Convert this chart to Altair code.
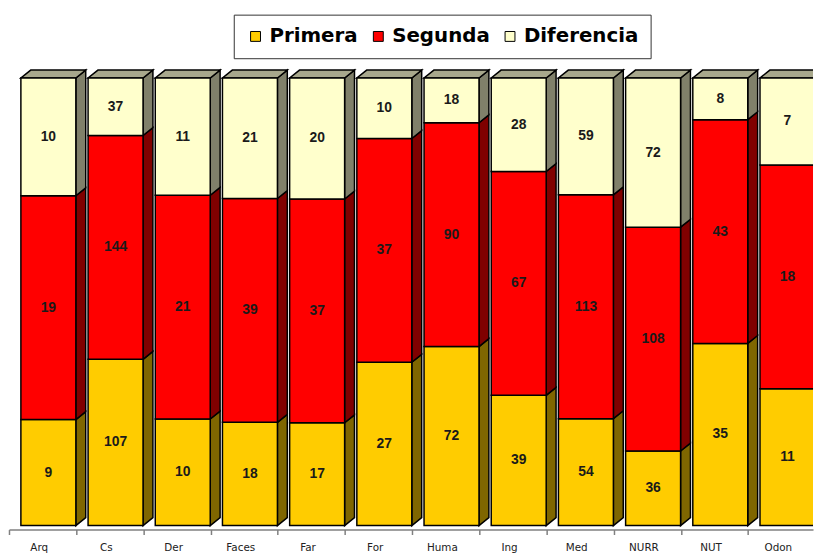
import json
import altair as alt
import pandas as pd

categories = ["Arq", "Cs", "Der", "Faces", "Far", "For", "Huma", "Ing", "Med", "NURR", "NUT", "Odon"]
primera = [9, 107, 10, 18, 17, 27, 72, 39, 54, 36, 35, 11]
segunda = [19, 144, 21, 39, 37, 37, 90, 67, 113, 108, 43, 18]
diferencia = [10, 37, 11, 21, 20, 10, 18, 28, 59, 72, 8, 7]
series = ["Primera", "Segunda", "Diferencia"]

front_colors = ["#FFCC00", "#FF0000", "#FFFFCC"]
side_colors = ["#7F6600", "#800000", "#80806A"]
top_color = "#A8A88C"

# geometry / style constants (band units and percent units)
FACE_L, FACE_R = 0.177, 0.995
DX, DY = 0.147, 1.77
X_MAX = 11.966

seg_rows, side_rows, top_rows = [], [], []
for i, c in enumerate(categories):
    vals = [primera[i], segunda[i], diferencia[i]]
    tot = sum(vals)
    cum = 0
    for k, (s, v) in enumerate(zip(series, vals)):
        y0 = cum / tot * 100
        cum += v
        y1 = cum / tot * 100
        seg_rows.append(dict(cat=c, idx=i, serie=s, value=v, y0=y0, y1=y1))
        gid = f"{c}-{s}"
        side_rows.append(dict(gid=gid, x=i + FACE_R, lo=y0, hi=y1, fill=side_colors[k]))
        side_rows.append(dict(gid=gid, x=i + FACE_R + DX, lo=y0 + DY, hi=y1 + DY, fill=side_colors[k]))
    gid = f"{c}-top"
    top_rows.append(dict(gid=gid, x=i + FACE_L, lo=100, hi=100, fill=top_color))
    top_rows.append(dict(gid=gid, x=i + FACE_L + DX, lo=100, hi=100 + DY, fill=top_color))
    top_rows.append(dict(gid=gid, x=i + FACE_R, lo=100, hi=100 + DY, fill=top_color))
    top_rows.append(dict(gid=gid, x=i + FACE_R + DX, lo=100 + DY, hi=100 + DY, fill=top_color))

seg_df = pd.DataFrame(seg_rows)
side_df = pd.DataFrame(side_rows)
top_df = pd.DataFrame(top_rows)

xscale = alt.Scale(domain=[0, X_MAX], nice=False, zero=False)
yscale = alt.Scale(domain=[-0.885, 102.21], nice=False, zero=False)
xaxis = alt.Axis(
    values=list(range(len(categories))),
    labelExpr=f"{json.dumps(categories)}[datum.value]",
    labelOffset=30,
    grid=False,
    title=None,
    tickSize=5,
    tickColor="#808080",
    domainColor="#808080",
    domainWidth=1.5,
    tickWidth=1.5,
    labelFont="DejaVu Sans",
    labelFontSize=10.5,
    labelColor="#222222",
    labelPadding=8,
    labelAlign="center",
)

X = lambda f: alt.X(f, scale=xscale, axis=xaxis)

sides = alt.Chart(side_df).mark_area(stroke="black", strokeWidth=1.5, clip=True, interpolate="linear").encode(
    x=X("x:Q"),
    y=alt.Y("lo:Q", scale=yscale, axis=None, stack=None),
    y2="hi:Q",
    detail="gid:N",
    fill=alt.Fill("fill:N", scale=None),
)

tops = alt.Chart(top_df).mark_area(stroke="black", strokeWidth=1.5, clip=True, interpolate="linear").encode(
    x=X("x:Q"),
    y=alt.Y("lo:Q", scale=yscale, axis=None, stack=None),
    y2="hi:Q",
    detail="gid:N",
    fill=alt.Fill("fill:N", scale=None),
)

base = alt.Chart(seg_df).transform_calculate(
    xa=f"datum.idx + {FACE_L}",
    xb=f"datum.idx + {FACE_R}",
    xm=f"datum.idx + {(FACE_L + FACE_R) / 2}",
    ym="(datum.y0 + datum.y1) / 2",
)

faces = base.mark_rect(stroke="black", strokeWidth=1.5, clip=True).encode(
    x=X("xa:Q"),
    x2="xb:Q",
    y=alt.Y("y0:Q", scale=yscale, axis=None),
    y2="y1:Q",
    color=alt.Color(
        "serie:N",
        scale=alt.Scale(domain=series, range=front_colors),
        sort=series,
        legend=alt.Legend(
            title=None,
            orient="none",
            legendX=227,
            legendY=-54,
            direction="horizontal",
            symbolType="square",
            symbolSize=100,
            symbolStrokeColor="black",
            symbolStrokeWidth=1,
            symbolOpacity=1,
            labelFont="DejaVu Sans",
            labelFontSize=20,
            labelFontWeight="bold",
            labelColor="black",
            labelOffset=4,
            columnPadding=10,
            padding=12,
            strokeColor="#333333",
            fillColor="white",
        ),
    ),
)

labels = base.mark_text(
    font="Liberation Sans", fontSize=14, fontWeight="bold", color="#1a1a1a", clip=True
).encode(
    x=X("xm:Q"),
    y=alt.Y("ym:Q", scale=yscale, axis=None),
    text="value:Q",
)

chart = alt.layer(sides, tops, faces, labels).properties(
    width=812,
    height=466,
    autosize=alt.AutoSizeParams(type="none"),
    padding={"left": 1, "top": 58, "right": 1, "bottom": 24},
).configure_view(stroke=None)

chart.save("out.html", embed_options={"renderer": "svg", "actions": False})
